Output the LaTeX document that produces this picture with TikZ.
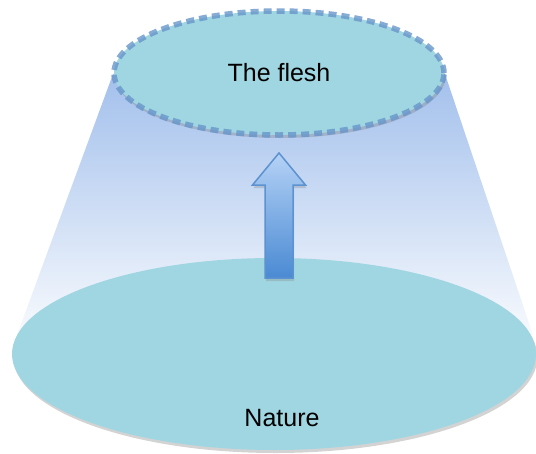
\documentclass[tikz,border=0pt]{standalone}
\usepackage{fontspec}
\setmainfont{Liberation Sans}
\usepackage{xcolor}
\usetikzlibrary{shapes.geometric}
\usetikzlibrary{shadows}
\definecolor{discfill}{RGB}{160,214,226}
\definecolor{rimblue}{RGB}{104,150,203}
\definecolor{beamtop}{RGB}{163,192,236}
\definecolor{arrowtop}{RGB}{181,210,246}
\definecolor{arrowbot}{RGB}{74,138,211}
\definecolor{arrowrim}{RGB}{92,146,207}

\begin{document}
\begin{tikzpicture}[x=1pt,y=-1pt,
  disc/.style={ellipse,fill=discfill,inner sep=0pt,
    drop shadow={opacity=0.35,shadow xshift=1.5pt,shadow yshift=-3pt}},
  label text/.style={font=\fontsize{25}{30}\selectfont,text=black}]
\useasboundingbox (0,0) rectangle (536,453);
% light beam between the two discs
\shade[top color=beamtop,bottom color=beamtop!8!white,middle color=beamtop!55!white]
  (113,74) -- (445,74) -- (533,335) -- (17,335) -- cycle;
% lower disc
\node[disc,minimum width=524pt,minimum height=192pt] (nature) at (274,354) {};
\node[label text] (naturetext) at (282,418) {Nature};
% block arrow
\shade[top color=arrowtop,bottom color=arrowbot,draw=arrowrim,line width=1.5pt,
  line join=miter,
  drop shadow={opacity=0.3,shadow xshift=1pt,shadow yshift=-3pt}]
  (279,153) -- (305.5,185) -- (293,185) -- (293,278) -- (265,278)
  -- (265,185) -- (252.5,185) -- cycle;
% upper disc
\node[disc,minimum width=330pt,minimum height=124pt,draw=rimblue,draw opacity=0.8,
  line width=5.5pt,dash pattern=on 8pt off 5pt,label text] (flesh) at (279,73) {The flesh};
\end{tikzpicture}
\end{document}
